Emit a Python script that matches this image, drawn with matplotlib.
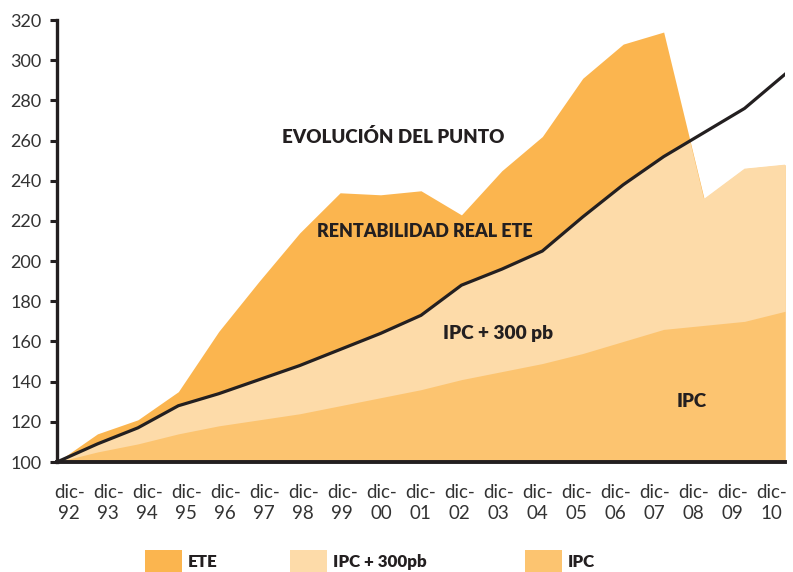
import matplotlib
matplotlib.use('Agg')
import matplotlib.pyplot as plt
import numpy as np
from matplotlib.patches import Rectangle

plt.rcParams['font.family'] = ['Lato', 'DejaVu Sans']

# datos
years = ['92', '93', '94', '95', '96', '97', '98', '99', '00', '01',
         '02', '03', '04', '05', '06', '07', '08', '09', '10']
ete = [100, 114, 121, 135, 165, 190, 214, 234, 233, 235,
       223, 245, 262, 291, 308, 314, 231, 246, 248]
ipc_300 = [100, 109, 117, 128, 134, 141, 148, 156, 164, 173,
           188, 196, 205, 222, 238, 252, 264, 276, 293]
ipc = [100, 105, 109, 114, 118, 121, 124, 128, 132, 136,
       141, 145, 149, 154, 160, 166, 168, 170, 175]

c_ete = '#FBB54F'
c_300 = '#FDDBA9'
c_ipc = '#FCC470'
c_txt = '#231F20'

fig = plt.figure(figsize=(7.93, 5.72), dpi=100)
ax = fig.add_axes([57 / 793, 1 - 462 / 572, 728 / 793, 442 / 572])

x = np.arange(len(years))

# area ETE
ete_poly = ax.fill_between(x, 100, ete, color=c_ete, lw=0)
# IPC + 300pb, solo dentro de la zona ETE
light = ax.fill_between(x, 100, ipc_300, color=c_300, lw=0)
light.set_clip_path(ete_poly.get_paths()[0], ax.transData)
# IPC
ax.fill_between(x, 100, ipc, color=c_ipc, lw=0)
# linea del punto
ax.plot(x, ipc_300, color=c_txt, lw=2.3, solid_joinstyle='round')

ax.set_xlim(0, len(years) - 1)
ax.set_ylim(100, 320)
ax.set_yticks(np.arange(100, 321, 20))
ax.tick_params(axis='y', length=5, width=2.2, color=c_txt,
               labelsize=13, labelcolor='#333333', pad=6)

# etiquetas del eje x algo desplazadas como en el original
ax.set_xticks(x * 0.965 + 0.3)
ax.set_xticklabels(['dic-\n' + y for y in years], fontsize=13.5,
                   color='#333333', linespacing=1.3)
ax.tick_params(axis='x', length=0, pad=16)

for s in ['top', 'right']:
    ax.spines[s].set_visible(False)
ax.spines['left'].set_linewidth(2.4)
ax.spines['bottom'].set_linewidth(2.8)
ax.spines['left'].set_color(c_txt)
ax.spines['bottom'].set_color(c_txt)
ax.spines['left'].set_zorder(5)
ax.spines['bottom'].set_zorder(5)

# textos dentro del grafico
kw = dict(ha='center', va='center', fontweight='heavy', color=c_txt)
ax.text(8.3, 262, 'EVOLUCIÓN DEL PUNTO', fontsize=13.5, **kw)
ax.text(9.1, 214.5, 'RENTABILIDAD REAL ETE', fontsize=13, **kw)
ax.text(10.9, 164, 'IPC + 300 pb', fontsize=13.8, **kw)
ax.text(15.7, 130, 'IPC', fontsize=13.5, **kw)

# leyenda manual
items = [('ETE', c_ete, 145), ('IPC + 300pb', c_300, 290), ('IPC', c_ipc, 525)]
for label, col, px in items:
    fig.patches.append(Rectangle((px / 793, 0), 37 / 793, 22 / 572,
                                 transform=fig.transFigure, color=col, lw=0))
    fig.text((px + 43) / 793, 10 / 572, label, ha='left', va='center',
             fontsize=12.2, fontweight='heavy', color=c_txt)

fig.savefig('out.png', dpi=100)
